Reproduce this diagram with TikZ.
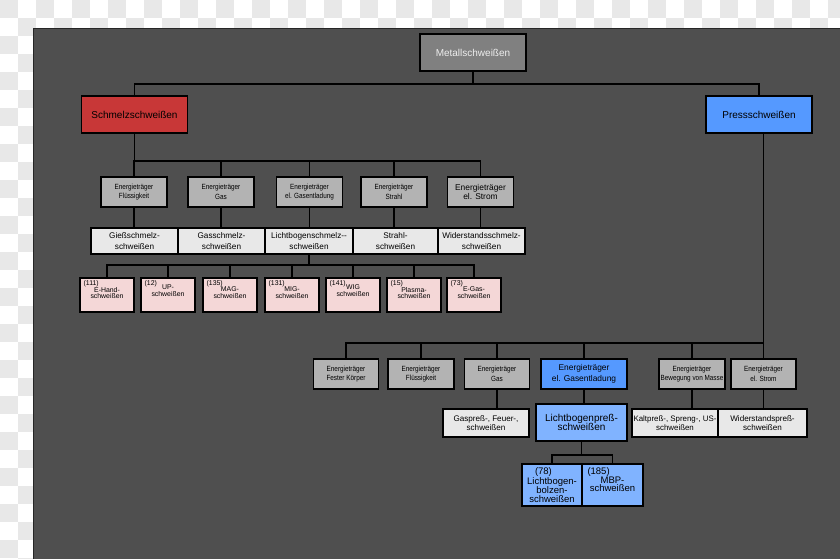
\documentclass[tikz,border=0pt]{standalone}
\usepackage{fontspec}
\setmainfont{Liberation Sans}
\newfontfamily\narrowfont[FakeStretch=0.85]{Liberation Sans}
\usetikzlibrary{calc}
\definecolor{panel}{HTML}{4F4F4F}
\definecolor{checkgrey}{HTML}{E8E8E8}
\definecolor{boxgrey}{HTML}{B3B3B3}
\definecolor{boxlight}{HTML}{E8E8E8}
\definecolor{boxpink}{HTML}{F4D7D7}
\definecolor{boxred}{HTML}{C83737}
\definecolor{boxblue}{HTML}{5599FF}
\definecolor{boxlblue}{HTML}{80B3FF}
\definecolor{metgrey}{HTML}{808080}
\definecolor{mettext}{HTML}{EEEEEE}
\tikzset{
  box/.style={draw=black, line width=1.1pt, inner sep=0pt, align=center, text=black},
  topbox/.style={box, minimum width=106pt, minimum height=37pt, font=\fontsize{10}{12}\selectfont},
  catgrey/.style={box, fill=boxgrey, minimum width=66pt, minimum height=30pt, font=\narrowfont\fontsize{7.5}{9.8}\selectfont},
  catbig/.style={catgrey, font=\fontsize{8.4}{9.5}\selectfont},
  procbox/.style={box, fill=boxlight, minimum height=26pt, font=\fontsize{8.2}{10.5}\selectfont},
  rproc/.style={box, fill=boxlight, minimum height=28pt, font=\fontsize{8.1}{9.5}\selectfont},
  pinkbox/.style={box, fill=boxpink, minimum width=54pt, minimum height=34pt},
  pinktxt/.style={inner sep=0pt, align=center, text=black, font=\fontsize{6.9}{6.9}\selectfont},
  pinknum/.style={inner sep=0pt, anchor=north west, text=black, font=\fontsize{6.9}{6.9}\selectfont},
  botbox/.style={box, fill=boxlblue, minimum height=42pt, font=\fontsize{9.5}{8.6}\selectfont},
  wire/.style={draw=black, line width=1.2pt}
}
\begin{document}
\begin{tikzpicture}[x=1pt,y=-1pt]
\useasboundingbox (0,0) rectangle (840,559);
\clip (0,0) rectangle (840,559);
% checkerboard
\fill[white] (0,0) rectangle (840,559);
\foreach \i in {0,...,46}{
  \foreach \j in {0,...,31}{
    \pgfmathtruncatemacro{\cpar}{mod(\i+\j,2)}
    \ifnum\cpar=0 \fill[checkgrey] (\i*18,\j*18) rectangle ++(18,18);\fi
  }
}
% panel
\draw[fill=panel, draw=black!85, line width=0.8pt] (33,28) rectangle (846,566);

% top level
\node[topbox, fill=metgrey, text=mettext] (meta) at (473,52.5) {Metallschweißen};
\node[topbox, fill=boxred] (schmelz) at (134.5,114.5) {Schmelzschweißen};
\node[topbox, fill=boxblue] (press) at (759,114.5) {Pressschweißen};

% left row 1
\node[catgrey] (L1) at (134,192) {Energieträger\\Flüssigkeit};
\node[catgrey] (L2) at (221,192) {Energieträger\\Gas};
\node[catgrey] (L3) at (309.5,192) {Energieträger\\el. Gasentladung};
\node[catgrey] (L4) at (394,192) {Energieträger\\Strahl};
\node[catbig] (L5) at (480.5,192) {Energieträger\\el. Strom};

% left row 2
\node[procbox, minimum width=87pt] (S1) at (134.5,241) {Gießschmelz-\\schweißen};
\node[procbox, minimum width=87pt] (S2) at (221.5,241) {Gasschmelz-\\schweißen};
\node[procbox, minimum width=88pt] (S3) at (309,241) {Lichtbogenschmelz-{}-\\schweißen};
\node[procbox, minimum width=85pt] (S4) at (395.5,241) {Strahl-\\schweißen};
\node[procbox, minimum width=87pt] (S5) at (481.5,241) {Widerstandsschmelz-\\schweißen};

% pink row
\foreach \n/\x/\num/\txt/\ty in {
  P1/107/(111)/{E-Hand-\\schweißen}/293,
  P2/168/(12)/{UP-\\schweißen}/291,
  P3/230/(135)/{MAG-\\schweißen}/293,
  P4/292/(131)/{MIG-\\schweißen}/293,
  P5/353/(141)/{WIG\\schweißen}/291,
  P6/414/(15)/{Plasma-\\schweißen}/293,
  P7/474/(73)/{E-Gas-\\schweißen}/293}{
  \node[pinkbox] (\n) at (\x,295) {};
  \node[pinknum] (\n num) at ($(\n.north west)+(4,2.5)$) {\num};
  \node[pinktxt] (\n txt) at (\x,\ty) {\txt};
}

% right row 1
\node[catgrey, minimum width=65pt] (R1) at (346,374) {Energieträger\\Fester Körper};
\node[catgrey] (R2) at (421,374) {Energieträger\\Flüssigkeit};
\node[catgrey, minimum width=65pt] (R3) at (497,374) {Energieträger\\Gas};
\node[catgrey, fill=boxblue, minimum width=86pt, font=\fontsize{8.4}{11}\selectfont] (R4) at (584,374) {Energieträger\\el. Gasentladung};
\node[catgrey] (R5) at (692,374) {Energieträger\\Bewegung von Masse};
\node[catgrey, minimum width=65pt] (R6) at (763.5,374) {Energieträger\\el. Strom};

% right row 2
\node[rproc, minimum width=86pt] (Q1) at (486,423) {Gaspreß-, Feuer-,\\schweißen};
\node[box, fill=boxlblue, minimum width=91pt, minimum height=37pt, font=\fontsize{10}{9.5}\selectfont] (Q2) at (581.5,422.5) {Lichtbogenpreß-\\schweißen};
\node[rproc, minimum width=86pt, font=\fontsize{7.9}{9.5}\selectfont] (Q3) at (675,423) {Kaltpreß-, Spreng-, US-\\schweißen};
\node[rproc, minimum width=89pt] (Q4) at (762.5,423) {Widerstandspreß-\\schweißen};

% bottom
\node[botbox, minimum width=60pt] (B1) at (552,485) {\makebox[34pt][l]{(78)}\\Lichtbogen-\\bolzen-\\schweißen};
\node[botbox, minimum width=61pt] (B2) at (612.5,485) {\makebox[50pt][l]{(185)}\\MBP-\\schweißen\\[2pt]};

% connectors
\coordinate (tb) at (473,84);
\draw[wire] (meta.south) -- (meta.south |- tb);
\draw[wire] (schmelz.north) |- (tb) -| (press.north);

\coordinate (lb) at (134,161);
\draw[wire] (schmelz.south) -- (schmelz.south |- lb);
\draw[wire] (L1.north) |- (L5.north |- lb) -- (L5.north);
\foreach \n in {L2,L3,L4} \draw[wire] (\n.north) -- (\n.north |- lb);
\foreach \a/\b in {L1/S1,L2/S2,L3/S3,L4/S4,L5/S5} \draw[wire] (\a.south) -- (\a.south |- \b.north);

\coordinate (pb) at (309,265);
\draw[wire] (S3.south) -- (S3.south |- pb);
\draw[wire] (P1.north) |- (P7.north |- pb) -- (P7.north);
\foreach \n in {P2,P3,P4,P5,P6} \draw[wire] (\n.north) -- (\n.north |- pb);

\coordinate (rb) at (763.5,343);
\draw[wire] (press.south -| R6.north) -- (R6.north);
\draw[wire] (R1.north) |- (rb);
\foreach \n in {R2,R3,R4,R5} \draw[wire] (\n.north) -- (\n.north |- rb);
\foreach \a/\b in {R3/Q1,R4/Q2,R5/Q3,R6/Q4} \draw[wire] (\a.south) -- (\a.south |- \b.north);

\coordinate (bb) at (581,455);
\draw[wire] (Q2.south) -- (Q2.south |- bb);
\draw[wire] (B1.north) |- (B2.north |- bb) -- (B2.north);
\end{tikzpicture}
\end{document}
